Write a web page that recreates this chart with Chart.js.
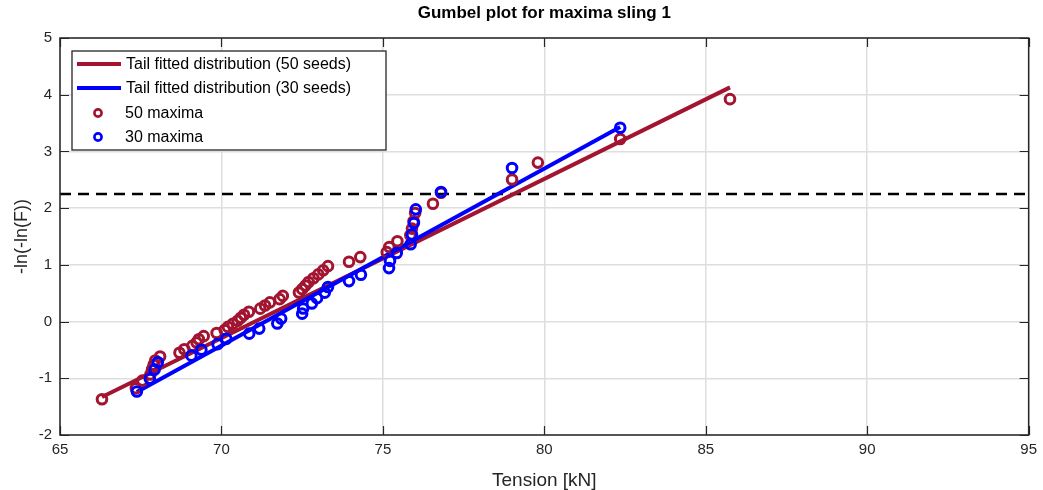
<!DOCTYPE html>
<html>
<head>
<meta charset="utf-8">
<script src="https://cdn.jsdelivr.net/npm/chart.js@4.4.1/dist/chart.umd.min.js"></script>
<style>
html,body{margin:0;padding:0;background:#fff;}
canvas{display:block;}
</style>
</head>
<body>
<canvas id="c" width="1043" height="490"></canvas>
<script>
// ---- data ----
const red50X = [66.30, 67.35, 67.55, 67.8, 67.85, 67.9, 67.95, 68.1, 68.7, 68.85,
  69.1, 69.23, 69.3, 69.45, 69.85, 70.1, 70.2, 70.35, 70.5, 70.6,
  70.7, 70.85, 71.2, 71.35, 71.5, 71.8, 71.9, 72.4, 72.5, 72.6,
  72.7, 72.85, 73.0, 73.15, 73.3, 73.95, 74.3, 75.12, 75.2, 75.45,
  75.85, 75.9, 75.95, 76.0, 76.55, 76.8, 79.0, 79.8, 82.35, 85.75];
const red50Y = [-1.369, -1.175, -1.041, -0.934, -0.843, -0.761, -0.686, -0.617, -0.551, -0.488,
  -0.428, -0.369, -0.313, -0.257, -0.202, -0.148, -0.094, -0.041, 0.013, 0.066,
  0.120, 0.173, 0.228, 0.283, 0.338, 0.395, 0.453, 0.512, 0.572, 0.634,
  0.698, 0.763, 0.832, 0.903, 0.977, 1.055, 1.137, 1.224, 1.316, 1.415,
  1.522, 1.639, 1.768, 1.913, 2.078, 2.271, 2.505, 2.803, 3.219, 3.922];
const blue30X = [67.38, 67.78, 67.93, 68.03, 69.07, 69.38, 69.88, 70.15, 70.86, 71.17,
  71.73, 71.85, 72.5, 72.53, 72.8, 72.96, 73.2, 73.3, 73.95, 74.32,
  75.19, 75.22, 75.43, 75.86, 75.9, 75.96, 76.02, 76.8, 79.0, 82.35];
const blue30Y = [-1.234, -1.008, -0.848, -0.717, -0.601, -0.496, -0.398, -0.304, -0.213, -0.124,
  -0.035, 0.052, 0.140, 0.230, 0.320, 0.413, 0.510, 0.610, 0.714, 0.825,
  0.943, 1.070, 1.209, 1.363, 1.537, 1.738, 1.979, 2.285, 2.708, 3.417];
const fit50X = [66.3, 85.75];
const fit50Y = [-1.33, 4.13];
const fit30X = [67.38, 82.35];
const fit30Y = [-1.24, 3.43];
const thresholdX = [65, 95];
const thresholdY = [2.25, 2.25];
const xTicks = [65, 70, 75, 80, 85, 90, 95];
const yTicks = [-2, -1, 0, 1, 2, 3, 4, 5];
const seriesNames = ['Tail fitted distribution (50 seeds)', 'Tail fitted distribution (30 seeds)', '50 maxima', '30 maxima'];
const titleText = 'Gumbel plot for maxima sling 1';
const xTitle = 'Tension [kN]';
const yTitle = '-ln(-ln(F))';

const RED = '#A2142F';
const BLUE = '#0000FF';
const AXIS = '#262626';
const FONT = "'Liberation Sans', Arial, Helvetica, sans-serif";

const pts = (xs, ys) => xs.map((x, i) => ({x: x, y: ys[i]}));

const frame = {
  id: 'frame',
  afterDatasetsDraw(chart) {
    const {ctx, chartArea: a, scales: {x, y}} = chart;
    ctx.save();
    ctx.strokeStyle = AXIS;
    ctx.lineWidth = 1.2;
    ctx.beginPath();
    xTicks.forEach(v => {
      const px = Math.round(x.getPixelForValue(v)) + 0.5;
      ctx.moveTo(px, a.bottom); ctx.lineTo(px, a.bottom - 9);
      ctx.moveTo(px, a.top); ctx.lineTo(px, a.top + 9);
    });
    yTicks.forEach(v => {
      const py = Math.round(y.getPixelForValue(v)) + 0.5;
      ctx.moveTo(a.left, py); ctx.lineTo(a.left + 9, py);
      ctx.moveTo(a.right, py); ctx.lineTo(a.right - 9, py);
    });
    ctx.stroke();
    ctx.lineWidth = 1.5;
    ctx.strokeRect(a.left, a.top, a.right - a.left, a.bottom - a.top);

    // legend
    const lx = 72, ly = 51, lw = 314, lh = 99;
    ctx.fillStyle = '#fff';
    ctx.fillRect(lx, ly, lw, lh);
    ctx.lineWidth = 1.3;
    ctx.strokeStyle = AXIS;
    ctx.strokeRect(lx, ly, lw, lh);
    const ds = chart.data.datasets;
    ctx.font = '16px ' + FONT;
    ctx.textBaseline = 'middle';
    ctx.textAlign = 'left';
    const rows = [64, 88, 113, 137];
    for (let i = 0; i < 4; i++) {
      const d = ds[i];
      const yy = rows[i];
      if (i < 2) {
        ctx.strokeStyle = d.borderColor;
        ctx.lineWidth = 4;
        ctx.beginPath();
        ctx.moveTo(77, yy); ctx.lineTo(121, yy);
        ctx.stroke();
        ctx.fillStyle = '#000';
        ctx.fillText(d.label, 126, yy + 1);
      } else {
        ctx.strokeStyle = d.borderColor;
        ctx.lineWidth = 2.6;
        ctx.beginPath();
        ctx.arc(98, yy, 3.6, 0, Math.PI * 2);
        ctx.stroke();
        ctx.fillStyle = '#000';
        ctx.fillText(d.label, 125, yy + 1);
      }
    }
    ctx.restore();
  }
};

new Chart(document.getElementById('c'), {
  type: 'scatter',
  data: {
    datasets: [
      {label: seriesNames[0], type: 'line', data: pts(fit50X, fit50Y), borderColor: RED, borderWidth: 4, pointRadius: 0, fill: false, order: 3},
      {label: seriesNames[1], type: 'line', data: pts(fit30X, fit30Y), borderColor: BLUE, borderWidth: 4, pointRadius: 0, fill: false, order: 2},
      {label: seriesNames[2], data: pts(red50X, red50Y), borderColor: RED, backgroundColor: 'rgba(0,0,0,0)', pointRadius: 4.8, pointBorderWidth: 3, order: 1},
      {label: seriesNames[3], data: pts(blue30X, blue30Y), borderColor: BLUE, backgroundColor: 'rgba(0,0,0,0)', pointRadius: 4.8, pointBorderWidth: 3, order: 0},
      {label: 'threshold', type: 'line', data: pts(thresholdX, thresholdY), borderColor: '#000', borderWidth: 2.5, borderDash: [11, 7], pointRadius: 0, fill: false, order: 4}
    ]
  },
  options: {
    responsive: false,
    animation: false,
    layout: {padding: {top: 0, right: 11, left: 0, bottom: 0}},
    plugins: {
      legend: {display: false},
      tooltip: {enabled: false},
      title: {
        display: true, fullSize: false, text: titleText, color: '#000',
        font: {family: FONT, size: 17, weight: 'bold'},
        padding: {top: 3, bottom: 14.6}
      }
    },
    scales: {
      x: {
        type: 'linear', min: 65, max: 95,
        afterFit(s) { s.height = 55; },
        afterBuildTicks(s) { s.ticks = xTicks.map(v => ({value: v})); },
        ticks: {color: '#262626', font: {family: FONT, size: 15}, padding: 6, maxRotation: 0},
        grid: {color: '#dedede', lineWidth: 1.5, drawTicks: false},
        border: {display: false},
        title: {display: true, text: xTitle, color: '#262626', font: {family: FONT, size: 19}, padding: {top: 0, bottom: -2}}
      },
      y: {
        type: 'linear', min: -2, max: 5,
        afterFit(s) { s.width = 60; },
        afterBuildTicks(s) { s.ticks = yTicks.map(v => ({value: v})); },
        ticks: {color: '#262626', font: {family: FONT, size: 15}, padding: 8},
        grid: {color: '#dedede', lineWidth: 1.5, drawTicks: false},
        border: {display: false},
        title: {display: true, text: yTitle, color: '#262626', font: {family: FONT, size: 18}, padding: {top: 11, bottom: 0}}
      }
    }
  },
  plugins: [frame]
});
</script>
</body>
</html>
